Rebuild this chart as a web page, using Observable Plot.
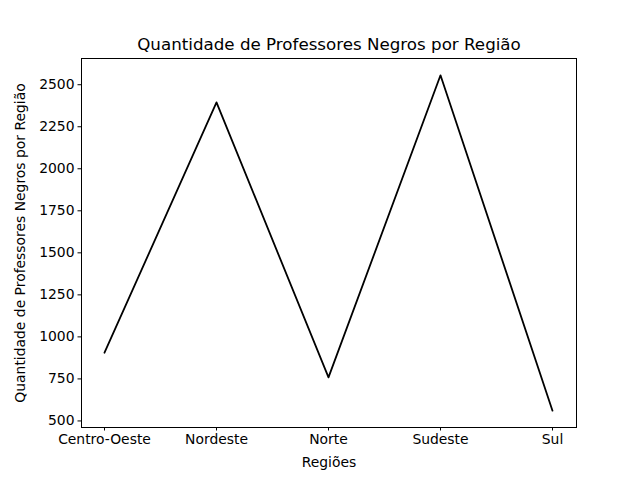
<!DOCTYPE html>
<html lang="pt">
<head>
<meta charset="utf-8">
<title>Quantidade de Professores Negros por Região</title>
<script src="https://cdn.jsdelivr.net/npm/d3@7"></script>
<script src="https://cdn.jsdelivr.net/npm/@observablehq/plot@0.6"></script>
<style>
  body { margin: 0; background: #fff; }
</style>
</head>
<body>
<div id="graphic"></div>
<script>
  const regioes = ["Centro-Oeste", "Nordeste", "Norte", "Sudeste", "Sul"];
  const professores = [906, 2395, 759, 2556, 561];
  const yTicks = [500, 750, 1000, 1250, 1500, 1750, 2000, 2250, 2500];

  const data = regioes.map((r, i) => ({regiao: r, valor: professores[i]}));

  const chart = Plot.plot({
    width: 640,
    height: 480,
    marginLeft: 81,
    marginRight: 64,
    marginTop: 58,
    marginBottom: 53,
    style: {fontFamily: "'DejaVu Sans', sans-serif", fontSize: "13.9px", color: "#000", background: "#fff"},
    x: {type: "point", domain: regioes, padding: 0, insetLeft: 22, insetRight: 23},
    y: {domain: [461, 2656]},
    marks: [
      Plot.frame({stroke: "#000", strokeWidth: 1}),
      Plot.axisX({tickSize: 3.5, tickPadding: 3.5, label: "Regiões", labelAnchor: "center", labelArrow: "none", labelOffset: 39}),
      Plot.axisY(yTicks, {tickSize: 3.5, tickPadding: 3.5, tickFormat: d3.format("d"), label: "Quantidade de Professores Negros por Região", labelAnchor: "center", labelArrow: "none", labelOffset: 66}),
      Plot.line(data, {x: "regiao", y: "valor", stroke: "#000", strokeWidth: 1.8}),
      Plot.text(["Quantidade de Professores Negros por Região"], {frameAnchor: "top", dy: -20, fontSize: 16.7, fill: "#000"})
    ]
  });
  document.getElementById("graphic").appendChild(chart);
</script>
</body>
</html>
